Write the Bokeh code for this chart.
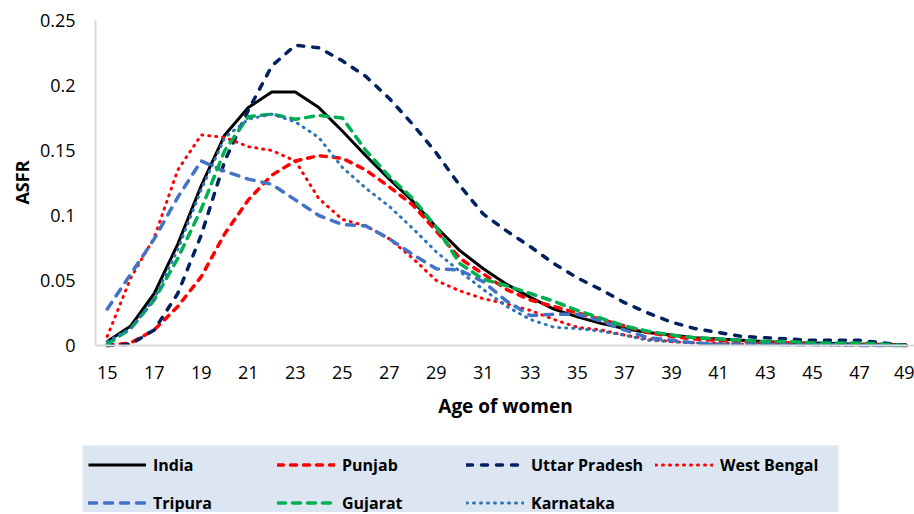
import math
from bokeh.plotting import figure
from bokeh.models import Range1d, FixedTicker, Legend, LegendItem, Label
from bokeh.embed import file_html
from bokeh.resources import INLINE

ages = list(range(15, 50))
x_tick_values = [15, 17, 19, 21, 23, 25, 27, 29, 31, 33, 35, 37, 39, 41, 43, 45, 47, 49]
y_tick_values = [0, 0.05, 0.1, 0.15, 0.2, 0.25]
y_tick_labels = ["0", "0.05", "0.1", "0.15", "0.2", "0.25"]
x_title = "Age of women"
y_title = "ASFR"

india = [0.003, 0.015, 0.040, 0.078, 0.123, 0.162, 0.183, 0.195, 0.195, 0.183, 0.165, 0.146,
         0.128, 0.111, 0.091, 0.073, 0.059, 0.047, 0.037, 0.028, 0.022, 0.017, 0.013, 0.010,
         0.008, 0.006, 0.005, 0.004, 0.003, 0.002, 0.002, 0.0015, 0.001, 0.001, 0.0005]
punjab = [0.000, 0.002, 0.012, 0.030, 0.053, 0.086, 0.112, 0.131, 0.142, 0.146, 0.144, 0.135,
          0.122, 0.108, 0.088, 0.067, 0.055, 0.043, 0.035, 0.030, 0.025, 0.020, 0.015, 0.010,
          0.007, 0.005, 0.004, 0.003, 0.002, 0.002, 0.001, 0.001, 0.001, 0.0005, 0.0]
uttar_pradesh = [0.000, 0.001, 0.012, 0.040, 0.085, 0.142, 0.181, 0.215, 0.231, 0.229, 0.219, 0.207,
                 0.190, 0.170, 0.148, 0.123, 0.101, 0.088, 0.076, 0.063, 0.052, 0.043, 0.033, 0.025,
                 0.018, 0.013, 0.010, 0.007, 0.006, 0.005, 0.004, 0.004, 0.004, 0.002, 0.0]
west_bengal = [0.007, 0.052, 0.083, 0.135, 0.162, 0.160, 0.153, 0.150, 0.142, 0.113, 0.097, 0.092,
               0.082, 0.067, 0.050, 0.042, 0.036, 0.032, 0.027, 0.020, 0.014, 0.012, 0.008, 0.005,
               0.003, 0.002, 0.002, 0.001, 0.001, 0.001, 0.0005, 0.0005, 0.0, 0.0, 0.0]
tripura = [0.028, 0.055, 0.082, 0.114, 0.142, 0.134, 0.128, 0.124, 0.112, 0.100, 0.093, 0.092,
           0.082, 0.070, 0.059, 0.058, 0.049, 0.034, 0.023, 0.024, 0.024, 0.019, 0.012, 0.006,
           0.004, 0.002, 0.001, 0.001, 0.001, 0.0005, 0.0005, 0.0005, 0.0, 0.0, 0.0]
gujarat = [0.001, 0.013, 0.035, 0.067, 0.105, 0.150, 0.176, 0.178, 0.174, 0.177, 0.175, 0.150,
           0.130, 0.113, 0.091, 0.063, 0.051, 0.046, 0.040, 0.034, 0.027, 0.021, 0.015, 0.011,
           0.008, 0.006, 0.005, 0.004, 0.003, 0.003, 0.002, 0.002, 0.002, 0.001, 0.0]
karnataka = [0.003, 0.013, 0.036, 0.074, 0.120, 0.160, 0.174, 0.178, 0.172, 0.160, 0.137, 0.121,
             0.107, 0.090, 0.072, 0.057, 0.043, 0.030, 0.020, 0.014, 0.013, 0.011, 0.008, 0.004,
             0.003, 0.002, 0.001, 0.001, 0.001, 0.0005, 0.0005, 0.0, 0.0, 0.0, 0.0]

series_names = ["India", "Punjab", "Uttar Pradesh", "West Bengal", "Tripura", "Gujarat", "Karnataka"]
series_values = [india, punjab, uttar_pradesh, west_bengal, tripura, gujarat, karnataka]

# styles
colors = ["#000000", "#FF0000", "#002060", "#FF0000", "#4472C4", "#00B050", "#2E75B6"]
dashes = ["solid", "6 7", "6 9", "1 6", "8 8", "8 7", "1 6"]
caps = ["butt", "round", "round", "round", "round", "round", "round"]
widths = [3, 3.5, 3.5, 3, 3.5, 3.5, 3]
FONT = "Open Sans"

# geometry: the frame fills the whole canvas; axes sit at fixed positions inside it
W, H = 914, 512
plot_left, plot_right = 95, 906          # canvas px of x = 14.5 and x = 49
plot_top, plot_bottom = 20, 345          # canvas px of y = 0.25 and y = 0
x_lo, x_hi = 14.5, 49.0
y_lo, y_hi = 0.0, 0.25
px_per_x = (plot_right - plot_left) / (x_hi - x_lo)
px_per_y = (plot_bottom - plot_top) / (y_hi - y_lo)


def data_x(sx):
    return x_lo + (sx - plot_left) / px_per_x


def data_y(sy):
    return y_lo + (plot_bottom - sy) / px_per_y


xr = Range1d(data_x(0), data_x(W))
yr = Range1d(data_y(H), data_y(0))

p = figure(width=W, height=H, x_range=xr, y_range=yr,
           output_backend="svg", toolbar_location=None,
           min_border_left=0, min_border_right=0, min_border_top=0, min_border_bottom=0)
p.outline_line_color = None
p.xgrid.visible = False
p.ygrid.visible = False

# legend background box
p.quad(left=[data_x(82)], right=[data_x(838)], top=[data_y(445)], bottom=[data_y(H + 10)],
       fill_color="#DCE6F2", line_color=None)

items = []
for name, vals, c, d, cap, w in zip(series_names, series_values, colors, dashes, caps, widths):
    r = p.line(ages, vals, line_color=c, line_dash=d, line_cap=cap, line_width=w, line_join="round")
    items.append(LegendItem(label=name, renderers=[r]))

for ax in (p.xaxis[0], p.yaxis[0]):
    ax.axis_line_color = "#D9D9D9"
    ax.axis_line_width = 2
    ax.major_tick_line_color = None
    ax.minor_tick_line_color = None
    ax.major_tick_out = 0
    ax.major_tick_in = 0
    ax.minor_tick_out = 0
    ax.minor_tick_in = 0
    ax.major_label_text_font = FONT
    ax.major_label_text_font_size = "18px"
    ax.major_label_text_color = "#000000"

p.xaxis.fixed_location = y_lo
p.xaxis.bounds = (x_lo, data_x(W))
p.xaxis.ticker = FixedTicker(ticks=x_tick_values)
p.xaxis.major_label_standoff = 20

p.yaxis.fixed_location = x_lo
p.yaxis.bounds = (y_lo, y_hi)
p.yaxis.ticker = FixedTicker(ticks=y_tick_values)
p.yaxis.major_label_overrides = {v: s for v, s in zip(y_tick_values, y_tick_labels)}
p.yaxis.major_label_standoff = 20

# axis titles
p.add_layout(Label(x=505, y=H - 405, x_units="screen", y_units="screen", text=x_title,
                   text_font=FONT, text_font_style="bold", text_font_size="19px",
                   text_align="center", text_baseline="middle", text_color="#000000"))
p.add_layout(Label(x=21, y=H - 182, x_units="screen", y_units="screen", text=y_title,
                   angle=math.pi / 2, text_font=FONT, text_font_style="bold", text_font_size="18px",
                   text_align="center", text_baseline="middle", text_color="#000000"))

legend = Legend(items=items, location=(88, H - 520), orientation="horizontal", ncols=4,
                margin=0, padding=0, spacing=3,
                glyph_width=58, glyph_height=35, label_height=35, label_width=121,
                label_standoff=7,
                label_text_font=FONT, label_text_font_style="bold", label_text_font_size="16px",
                label_text_color="#000000", label_text_baseline="middle",
                background_fill_alpha=0.0, border_line_color=None)
p.add_layout(legend, "center")

open("out.html", "w").write(file_html(p, INLINE))
